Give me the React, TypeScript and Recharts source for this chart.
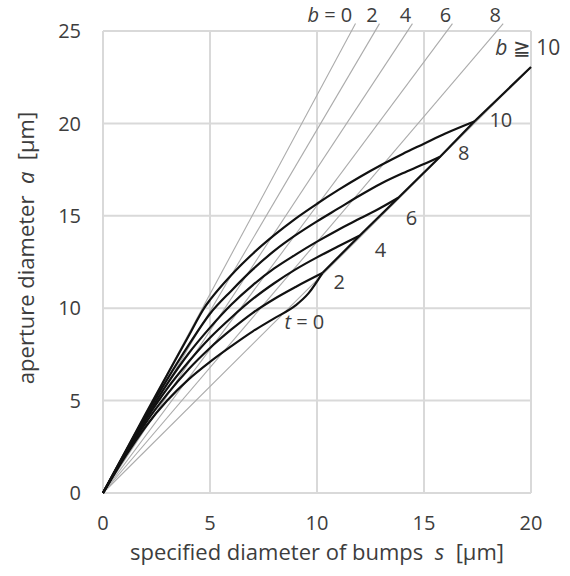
import { CartesianGrid, Line, LineChart, ReferenceDot, ReferenceLine, XAxis, YAxis } from "recharts";

// the chart fills the whole page, labels sit right at the top edge
document.body.style.margin = "0";

// axis ticks
const sTicks = [0, 5, 10, 15, 20];
const aTicks = [0, 5, 10, 15, 20, 25];

// black curves, [s, a] in µm, one per t value
const curveT0: [number, number][] = [[0, 0], [1, 1.9], [2, 3.6], [3, 5.0], [4, 6.15], [5, 7.1], [6, 7.95], [7, 8.75], [8, 9.45], [9, 10.15], [9.6, 10.8], [10.25, 11.9]];
const curveT2: [number, number][] = [[0, 0], [1, 1.98], [2, 3.8], [3, 5.35], [4, 6.7], [5, 7.85], [6, 8.85], [7, 9.75], [8, 10.5], [9, 11.15], [10.25, 11.9]];
const curveT4: [number, number][] = [[0, 0], [1, 2.03], [2, 3.95], [3, 5.65], [4, 7.1], [5, 8.4], [6, 9.5], [7, 10.5], [8, 11.35], [9, 12.1], [10, 12.75], [11, 13.35], [12, 13.93]];
const curveT6: [number, number][] = [[0, 0], [1, 2.08], [2, 4.05], [3, 5.9], [4, 7.55], [5, 8.95], [6, 10.2], [7, 11.25], [8, 12.15], [9, 12.9], [10, 13.6], [11, 14.25], [12, 14.85], [13, 15.45], [13.8, 15.98]];
const curveT8: [number, number][] = [[0, 0], [1, 2.12], [2, 4.2], [3, 6.15], [4, 8.0], [5, 9.7], [6, 10.95], [7, 12.1], [8, 13.1], [9, 13.95], [10, 14.7], [11, 15.4], [12, 16.1], [13, 16.75], [14, 17.3], [15, 17.8], [15.75, 18.2]];
const curveT10: [number, number][] = [[0, 0], [1, 2.15], [2, 4.3], [3, 6.4], [4, 8.5], [4.75, 10.05], [5, 10.45], [6, 11.8], [7, 12.95], [8, 13.95], [9, 14.85], [10, 15.65], [11, 16.4], [12, 17.1], [13, 17.75], [14, 18.35], [15, 18.9], [16, 19.45], [17.35, 20.1]];
// lower envelope (b >= 10) where the t curves end
const envelope: [number, number][] = [[10.25, 11.9], [12, 13.93], [13.8, 15.98], [15.75, 18.2], [17.35, 20.1], [20, 23.05]];

// gray guide lines from the origin, b = 0..8 run past the top of the plot
const guideEndS = [11.8, 12.92, 14.46, 16.33, 18.7];
const guideEndA = 25.4;
const guideB10End: [number, number] = [20, 23.05];

// labels
const bLabels = ["b = 0", "2", "4", "6", "8"];
const bLabelS = [10.6, 12.57, 14.13, 16.0, 18.33];
const bLabelA = 25.85;
const tLabels = ["t = 0", "2", "4", "6", "8", "10"];
const tLabelS = [9.41, 11.04, 12.96, 14.41, 16.86, 18.59];
const tLabelA = [9.27, 11.43, 13.14, 14.9, 18.42, 20.18];
const bGeLabel = { s: 19.85, a: 24.1 };

const FONT = "'Open Sans', Lato, sans-serif";
const TEXT = "#3d3d3d";
const toPoints = (pts: [number, number][]) => pts.map(([s, a]) => ({ s, a }));

const curves = [curveT0, curveT2, curveT4, curveT6, curveT8, curveT10, envelope];

// "b = 0" / "t = 0" get an italic variable name in front
function labelText(text: string) {
  const m = text.match(/^([bt])(.*)$/);
  if (!m) return text;
  return (
    <>
      <tspan fontStyle="italic">{m[1]}</tspan>
      <tspan>{m[2]}</tspan>
    </>
  );
}

const labelShape = (text: string, size = 19) => (props: any) => (
  <text x={props.cx} y={props.cy} dy="0.35em" textAnchor="middle" fontSize={size} fontFamily={FONT} fill={TEXT}>
    {labelText(text)}
  </text>
);

const XTitle = (props: any) => {
  const vb = props.viewBox;
  return (
    <text x={vb.x + vb.width / 2} y={vb.y + 67} textAnchor="middle" fontSize={22} fontFamily={FONT} fill={TEXT}>
      specified diameter of bumps <tspan fontStyle="italic">{"\u00a0s\u00a0"}</tspan> [µm]
    </text>
  );
};

const YTitle = (props: any) => {
  const vb = props.viewBox;
  const cx = vb.x + 3.5;
  const cy = vb.y + vb.height / 2 - 14;
  return (
    <text x={cx} y={cy} dy="0.35em" transform={`rotate(-90 ${cx} ${cy})`} textAnchor="middle" fontSize={22} fontFamily={FONT} fill={TEXT}>
      aperture diameter <tspan fontStyle="italic">{"\u00a0a\u00a0"}</tspan> [µm]
    </text>
  );
};

export default function App() {
  return (
    <LineChart width={570} height={576} margin={{ top: 31, right: 39, bottom: 33, left: 23 }}>
      <CartesianGrid stroke="#d9d9d9" strokeWidth={2} />
      <XAxis
        type="number"
        dataKey="s"
        domain={[0, 20]}
        ticks={sTicks}
        axisLine={false}
        tickLine={false}
        tickSize={0}
        tickMargin={23}
        height={50}
        tick={{ fill: TEXT, fontSize: 20, fontFamily: FONT }}
        label={<XTitle />}
      />
      <YAxis
        type="number"
        domain={[0, 25]}
        ticks={aTicks}
        axisLine={false}
        tickLine={false}
        tickSize={0}
        tickMargin={22}
        width={80}
        tick={{ fill: TEXT, fontSize: 20, fontFamily: FONT }}
        label={<YTitle />}
      />
      {guideEndS.map((s, i) => (
        <ReferenceLine
          key={`g${i}`}
          segment={[{ x: 0, y: 0 }, { x: s, y: guideEndA }]}
          stroke="#ababab"
          strokeWidth={1.1}
          ifOverflow="visible"
        />
      ))}
      <ReferenceLine
        segment={[{ x: 0, y: 0 }, { x: guideB10End[0], y: guideB10End[1] }]}
        stroke="#ababab"
        strokeWidth={1.1}
        ifOverflow="visible"
      />
      {curves.map((c, i) => (
        <Line
          key={`c${i}`}
          data={toPoints(c)}
          dataKey="a"
          type={c === envelope ? "linear" : "monotone"}
          stroke="#111"
          strokeWidth={2.2}
          dot={false}
          activeDot={false}
          isAnimationActive={false}
        />
      ))}
      {bLabels.map((t, i) => (
        <ReferenceDot key={`b${i}`} x={bLabelS[i]} y={bLabelA} r={0} ifOverflow="visible" shape={labelShape(t, 20)} />
      ))}
      <ReferenceDot
        x={bGeLabel.s}
        y={bGeLabel.a}
        r={0}
        ifOverflow="visible"
        shape={(p: any) => (
          <text x={p.cx} y={p.cy} dy="0.35em" textAnchor="middle" fontSize={21} fontFamily={FONT} fill={TEXT}>
            <tspan fontStyle="italic">b</tspan> ≧ 10
          </text>
        )}
      />
      {tLabels.map((t, i) => (
        <ReferenceDot key={`t${i}`} x={tLabelS[i]} y={tLabelA[i]} r={0} ifOverflow="visible" shape={labelShape(t, 20)} />
      ))}
    </LineChart>
  );
}
